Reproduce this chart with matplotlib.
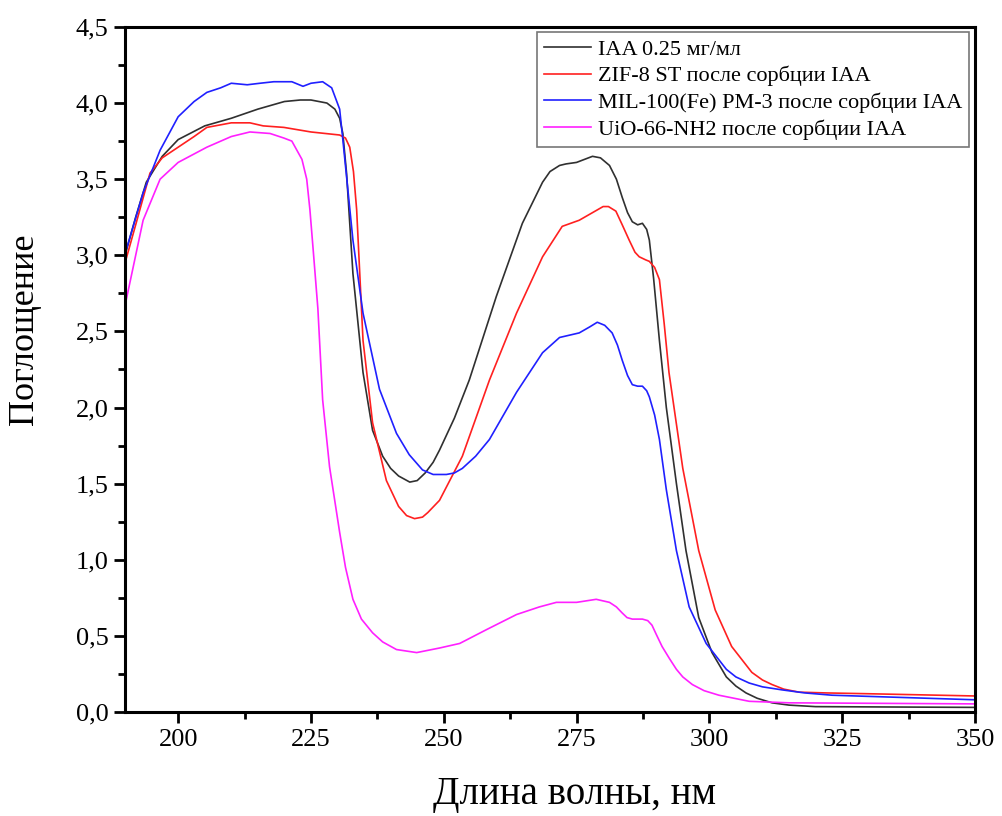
import matplotlib.pyplot as plt
from matplotlib.ticker import MultipleLocator, FuncFormatter

plt.rcParams['font.family'] = ['Liberation Serif', 'DejaVu Serif']

# IAA 0.25 mg/ml
x_iaa = [190, 192, 194, 197, 200, 205, 210, 215, 218, 220, 223, 225, 228, 229.5, 230.4, 231,
         231.7, 232.9, 234.8, 236.6, 238.5, 240, 241.5, 243.6, 245, 246.5, 248, 249.2, 252,
         254.8, 259.9, 264.8, 268.6, 270, 271.8, 273, 275, 276.5, 278, 279.5, 281.2, 282.5,
         283.6, 284.6, 285.5, 286.5, 287.4, 288.2, 288.7, 289.5, 290.6, 291.9, 293.8, 295.6,
         298, 300.5, 303.2, 305, 306.9, 309, 311.8, 315, 320, 350]
y_iaa = [3.00, 3.25, 3.48, 3.65, 3.76, 3.85, 3.90, 3.96, 3.99, 4.01, 4.02, 4.02, 4.00, 3.96, 3.90, 3.80,
         3.54, 2.88, 2.23, 1.85, 1.68, 1.60, 1.55, 1.51, 1.52, 1.57, 1.64, 1.72, 1.93,
         2.18, 2.73, 3.21, 3.48, 3.55, 3.59, 3.60, 3.61, 3.63, 3.65, 3.64, 3.59, 3.50,
         3.38, 3.28, 3.22, 3.20, 3.21, 3.17, 3.10, 2.85, 2.44, 2.00, 1.50, 1.06,
         0.62, 0.39, 0.23, 0.17, 0.125, 0.09, 0.06, 0.045, 0.035, 0.03]

# ZIF-8 ST
x_zif = [190, 192, 194.7, 197, 200, 203, 205.4, 210, 213.5, 216, 219.9, 225, 230.4, 231.5,
         232.3, 233, 233.6, 234.8, 236.6, 239.2, 241.5, 243, 244.5, 246, 247, 249.2, 253.5,
         258.6, 263.7, 268.6, 272.3, 275.5, 278, 280, 281, 282.4, 283.6, 284.9, 286, 286.8,
         288, 288.7, 289.7, 290.6, 291.5, 292.4, 295, 298, 301.1, 304.2, 308, 310, 311.8,
         314, 316.9, 322, 329.5, 350]
y_zif = [2.95, 3.20, 3.54, 3.64, 3.71, 3.78, 3.84, 3.87, 3.87, 3.85, 3.84, 3.81, 3.79, 3.77,
         3.71, 3.55, 3.30, 2.44, 1.90, 1.52, 1.35, 1.29, 1.27, 1.28, 1.31, 1.39, 1.68,
         2.18, 2.62, 2.99, 3.19, 3.23, 3.28, 3.32, 3.32, 3.29, 3.20, 3.10, 3.02, 2.99,
         2.97, 2.96, 2.92, 2.84, 2.55, 2.23, 1.60, 1.06, 0.67, 0.43, 0.26, 0.21, 0.18,
         0.15, 0.13, 0.125, 0.12, 0.105]

# MIL-100(Fe) PM-3
x_mil = [190, 193.4, 196.6, 200, 203, 205.4, 208, 210, 213, 215.4, 218, 221.4, 223.5, 225,
         227.2, 228.9, 230.4, 231, 232.9, 234.8, 237.9, 241.1, 243.5, 246, 248, 250.5, 252,
         253.5, 256, 258.6, 263.7, 268.6, 271.8, 275.5, 277.5, 278.9, 280.3, 281.7, 282.7,
         283.6, 284.6, 285.5, 286.5, 287.4, 288.2, 288.7, 289.7, 290.6, 291.9, 293.8, 296.2,
         299.4, 303.2, 305, 307.5, 310, 313.7, 318, 323.1, 350]
y_mil = [3.01, 3.41, 3.69, 3.91, 4.01, 4.07, 4.10, 4.13, 4.12, 4.13, 4.14, 4.14, 4.11, 4.13,
         4.14, 4.10, 3.96, 3.76, 3.10, 2.62, 2.12, 1.83, 1.69, 1.59, 1.56, 1.56, 1.57,
         1.60, 1.68, 1.79, 2.10, 2.36, 2.46, 2.49, 2.53, 2.56, 2.54, 2.49, 2.41,
         2.31, 2.21, 2.15, 2.14, 2.14, 2.11, 2.07, 1.95, 1.79, 1.46, 1.06, 0.69,
         0.45, 0.28, 0.23, 0.19, 0.165, 0.145, 0.125, 0.11, 0.08]

# UiO-66-NH2
x_uio = [190, 193.4, 196.6, 200, 205.4, 210, 213.5, 217.3, 219.9, 221.4, 223.3, 224.2, 224.8,
         225.5, 226.3, 227.2, 228.5, 230.4, 231.5, 232.9, 234.5, 236.6, 238.5, 241.1, 244.9,
         249.2, 253, 258, 263.7, 268, 271.2, 275, 278.7, 281.2, 282.5, 283.6, 284.5, 285.5,
         287.4, 288.4, 289.2, 290, 291.1, 292.5, 293.8, 295, 296.8, 299, 301.8, 307.5, 315, 350]
y_uio = [2.67, 3.23, 3.50, 3.61, 3.71, 3.78, 3.81, 3.80, 3.77, 3.75, 3.63, 3.50, 3.30,
         3.00, 2.65, 2.05, 1.61, 1.18, 0.95, 0.74, 0.61, 0.52, 0.46, 0.41, 0.39,
         0.42, 0.45, 0.54, 0.64, 0.69, 0.72, 0.72, 0.74, 0.72, 0.69, 0.65, 0.62, 0.61,
         0.61, 0.60, 0.57, 0.51, 0.43, 0.35, 0.28, 0.23, 0.18, 0.14, 0.11, 0.07, 0.06, 0.053]

labels = ['IAA 0.25 мг/мл', 'ZIF-8 ST после сорбции IAA',
          'MIL-100(Fe) PM-3 после сорбции IAA', 'UiO-66-NH2 после сорбции IAA']
colors = ['#303030', '#ff2020', '#2020ff', '#ff20ff']

fig = plt.figure(figsize=(10.02, 8.16), dpi=100)
ax = fig.add_axes([0.1248, 0.1275, 0.8482, 0.8395])

for xs, ys, lab, c in zip([x_iaa, x_zif, x_mil, x_uio], [y_iaa, y_zif, y_mil, y_uio], labels, colors):
    ax.plot(xs, ys, color=c, lw=1.2, label=lab)

ax.set_xlim(190, 350)
ax.set_ylim(0, 4.5)
ax.xaxis.set_major_locator(MultipleLocator(25))
ax.xaxis.set_minor_locator(MultipleLocator(12.5))
ax.yaxis.set_major_locator(MultipleLocator(0.5))
ax.yaxis.set_minor_locator(MultipleLocator(0.25))
ax.yaxis.set_major_formatter(FuncFormatter(lambda v, p: f'{v:.1f}'.replace('.', ',')))
ax.tick_params(which='major', direction='out', length=8, width=2, labelsize=19,
               top=False, right=False, pad=4)
ax.tick_params(which='minor', direction='out', length=5, width=2, top=False, right=False)
for s in ax.spines.values():
    s.set_linewidth(2.2)

ax.set_xlabel('Длина волны, нм', fontsize=28)
ax.set_ylabel('Поглощение', fontsize=26)
ax.xaxis.set_label_coords(0.529, -0.094)
ax.yaxis.set_label_coords(-0.099, 0.558)

leg = ax.legend(loc='upper right', fontsize=16, frameon=True, fancybox=False,
                edgecolor='#555555', handlelength=2.1, handletextpad=0.35,
                borderpad=0.3, labelspacing=0.28, borderaxespad=0.25)
leg.get_frame().set_linewidth(1.2)

fig.savefig('out.png', dpi=100)
